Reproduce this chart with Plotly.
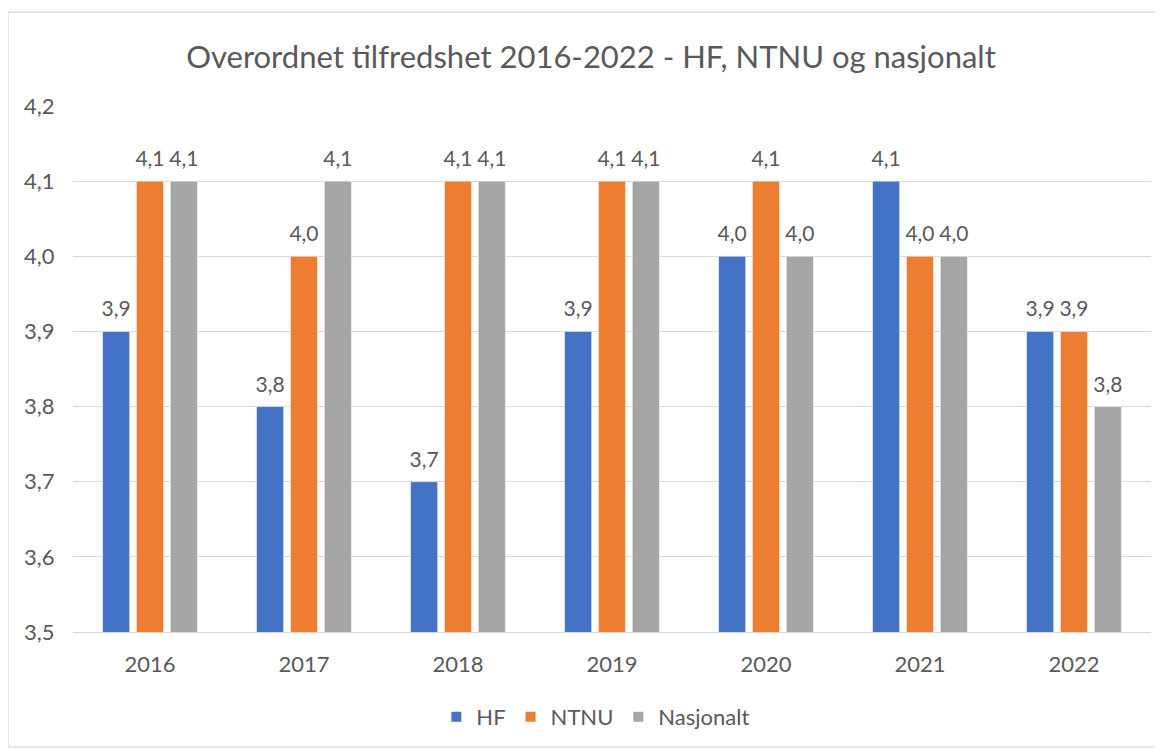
import plotly.graph_objects as go

years = ["2016", "2017", "2018", "2019", "2020", "2021", "2022"]
hf = [3.9, 3.8, 3.7, 3.9, 4.0, 4.1, 3.9]
ntnu = [4.1, 4.0, 4.1, 4.1, 4.1, 4.0, 3.9]
nasjonalt = [4.1, 4.1, 4.1, 4.1, 4.0, 4.0, 3.8]
series_names = ["HF", "NTNU", "Nasjonalt"]
colors = ["#4472C4", "#ED7D31", "#A5A5A5"]

FONT = "Lato"
TXT = "#595959"

W, H = 1155, 741
L, T, PW, PH = 65, 98, 1078, 527
GAP = 0.34

fig = go.Figure()
for name, vals, col in zip(series_names, [hf, ntnu, nasjonalt], colors):
    fig.add_trace(go.Bar(
        x=years, y=vals, name=name,
        marker=dict(color=col, line=dict(color="white", width=0.5)),
    ))
# data labels, grouped like the bars
for name, vals in zip(series_names, [hf, ntnu, nasjonalt]):
    fig.add_trace(go.Scatter(
        x=years, y=vals, mode="markers+text", showlegend=False, hoverinfo="skip",
        marker=dict(size=14, opacity=0),
        texttemplate="%{y:.1f}", textposition="top center",
        textfont=dict(family=FONT, size=21, color=TXT),
        cliponaxis=False,
    ))

fig.update_layout(
    width=W, height=H,
    paper_bgcolor="white", plot_bgcolor="white",
    separators=",.",
    barmode="group", bargap=GAP, bargroupgap=0.2,
    scattermode="group", scattergap=GAP,
    margin=dict(l=L, r=W - L - PW, t=T, b=H - T - PH),
    title=dict(text="Overordnet tilfredshet 2016-2022 - HF, NTNU og nasjonalt",
               x=(591 - 8) / W, xanchor="center", y=1 - (57 - 8) / H, yanchor="middle",
               font=dict(family=FONT, size=31, color=TXT)),
    font=dict(family=FONT, color=TXT),
    legend=dict(orientation="h", x=0.485, xanchor="center", y=-(717 - 633) / PH, yanchor="middle",
                font=dict(family=FONT, size=22, color=TXT), itemsizing="constant",
                traceorder="normal"),
    showlegend=True,
)
fig.update_yaxes(range=[3.5, 4.2], dtick=0.1, tickformat=".1f",
                 showgrid=True, gridcolor="#D9D9D9", gridwidth=1.3,
                 zeroline=False, showline=False,
                 tickfont=dict(family=FONT, size=22, color=TXT),
                 ticks="outside", ticklen=13, tickcolor="rgba(0,0,0,0)")
fig.update_xaxes(showline=True, linecolor="#D9D9D9", linewidth=1.3,
                 tickfont=dict(family=FONT, size=22, color=TXT),
                 ticks="outside", ticklen=12, tickcolor="rgba(0,0,0,0)")
fig.add_shape(type="rect", xref="paper", yref="paper",
              x0=-(L - 0) / PW, x1=1 + (W - L - PW - 2) / PW,
              y0=-(H - T - PH - 1) / PH, y1=1 + (T - 4) / PH,
              line=dict(color="#D9D9D9", width=1.3), layer="below")

fig.write_html("out.html")
